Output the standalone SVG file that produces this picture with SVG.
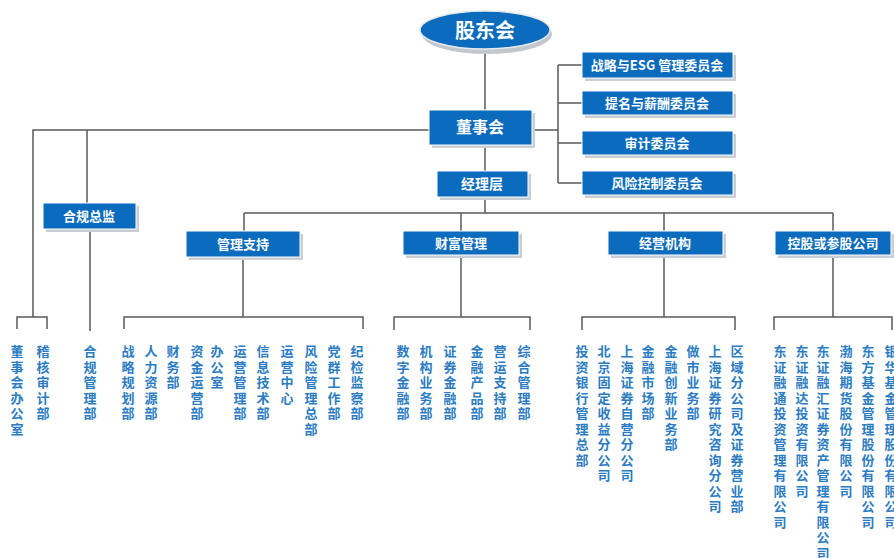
<svg xmlns="http://www.w3.org/2000/svg" width="894" height="558" viewBox="0 0 894 558">
<style>
.bg{fill:#ffffff}
.box{fill:#0b6bbd;stroke:#ffffff;stroke-width:1}
.sh{fill:#c9ced4}
.lbl{font-family:"Noto Sans CJK SC","Noto Sans",sans-serif;font-weight:bold;fill:#ffffff;text-anchor:middle}
.vt{font-family:"Noto Sans CJK SC","Noto Sans",sans-serif;font-weight:bold;font-size:13px;fill:#2b7cc2;writing-mode:vertical-rl;letter-spacing:2.5px}
.ln{fill:none;stroke:#5a5a5a;stroke-width:1.5}
</style>
<rect class="bg" x="0" y="0" width="894" height="558"/>
<g id="connectors">
<path class="ln" d="M485 50V110M485 145V171M485 197V213M244 213H833M244 213V231M461 213V231M664 213V231M833 213V231"/>
<path class="ln" d="M532 130H558M558 65V183M558 65H582M558 103H582M558 143H582M558 183H582"/>
<path class="ln" d="M429 130H33V317M87 130V203M17 329V317H47V329M90 229V331"/>
<path class="ln" d="M243 257V317M124 329V317H363V329"/>
<path class="ln" d="M461 255V317M394 330V317H530V330"/>
<path class="ln" d="M664 255V317M582 330V317H735V330"/>
<path class="ln" d="M833 255V317M774 330V317H892V330"/>
</g>
<g id="gudonghui">
<ellipse cx="487" cy="34" rx="65" ry="20" fill="#c2c7cd"/>
<ellipse cx="485" cy="30" rx="65" ry="19" fill="#0b6bbd" stroke="#e6e9ec" stroke-width="1.5"/>
<text class="lbl" x="485" y="38" font-size="20">股东会</text>
</g>
<g id="dongshihui">
<rect class="sh" x="432" y="113" width="103" height="35"/>
<rect class="box" x="429" y="110" width="103" height="35"/>
<text class="lbl" x="480" y="133" font-size="16">董事会</text>
</g>
<g id="jinglifeng">
<rect class="sh" x="440" y="174" width="91" height="26"/>
<rect class="box" x="437" y="171" width="91" height="26"/>
<text class="lbl" x="482" y="189" font-size="14">经理层</text>
</g>
<g id="c1">
<rect class="sh" x="585" y="55" width="151" height="26"/>
<rect class="box" x="582" y="52" width="151" height="26"/>
<text class="lbl" x="657" y="70" font-size="13">战略与ESG 管理委员会</text>
</g>
<g id="c2">
<rect class="sh" x="585" y="94" width="151" height="24"/>
<rect class="box" x="582" y="91" width="151" height="24"/>
<text class="lbl" x="657" y="108" font-size="13">提名与薪酬委员会</text>
</g>
<g id="c3">
<rect class="sh" x="585" y="134" width="151" height="24"/>
<rect class="box" x="582" y="131" width="151" height="24"/>
<text class="lbl" x="657" y="148" font-size="13">审计委员会</text>
</g>
<g id="c4">
<rect class="sh" x="585" y="174" width="151" height="24"/>
<rect class="box" x="582" y="171" width="151" height="24"/>
<text class="lbl" x="657" y="188" font-size="13">风险控制委员会</text>
</g>
<g id="hegui">
<rect class="sh" x="46" y="206" width="93" height="26"/>
<rect class="box" x="43" y="203" width="93" height="26"/>
<text class="lbl" x="89" y="221" font-size="13">合规总监</text>
</g>
<g id="guanli">
<rect class="sh" x="189" y="234" width="114" height="26"/>
<rect class="box" x="186" y="231" width="114" height="26"/>
<text class="lbl" x="243" y="249" font-size="13">管理支持</text>
</g>
<g id="caifu">
<rect class="sh" x="406" y="234" width="116" height="24"/>
<rect class="box" x="403" y="231" width="116" height="24"/>
<text class="lbl" x="461" y="248" font-size="13">财富管理</text>
</g>
<g id="jingying">
<rect class="sh" x="611" y="234" width="115" height="24"/>
<rect class="box" x="608" y="231" width="115" height="24"/>
<text class="lbl" x="665" y="248" font-size="13">经营机构</text>
</g>
<g id="konggu">
<rect class="sh" x="778" y="234" width="116" height="24"/>
<rect class="box" x="775" y="231" width="116" height="24"/>
<text class="lbl" x="833" y="248" font-size="13">控股或参股公司</text>
</g>
<g id="depts">
<text class="vt" x="17" y="345">董事会办公室</text>
<text class="vt" x="43" y="345">稽核审计部</text>
<text class="vt" x="90" y="345">合规管理部</text>
<text class="vt" x="128" y="345">战略规划部</text>
<text class="vt" x="151" y="345">人力资源部</text>
<text class="vt" x="173" y="345">财务部</text>
<text class="vt" x="197" y="345">资金运营部</text>
<text class="vt" x="217" y="345">办公室</text>
<text class="vt" x="240" y="345">运营管理部</text>
<text class="vt" x="263" y="345">信息技术部</text>
<text class="vt" x="287" y="345">运营中心</text>
<text class="vt" x="311" y="345">风险管理总部</text>
<text class="vt" x="334" y="345">党群工作部</text>
<text class="vt" x="357" y="345">纪检监察部</text>
<text class="vt" x="403" y="345">数字金融部</text>
<text class="vt" x="426" y="345">机构业务部</text>
<text class="vt" x="450" y="345">证券金融部</text>
<text class="vt" x="477" y="345">金融产品部</text>
<text class="vt" x="500" y="345">营运支持部</text>
<text class="vt" x="524" y="345">综合管理部</text>
<text class="vt" x="582" y="345">投资银行管理总部</text>
<text class="vt" x="604" y="345">北京固定收益分公司</text>
<text class="vt" x="627" y="345">上海证券自营分公司</text>
<text class="vt" x="648" y="345">金融市场部</text>
<text class="vt" x="671" y="345">金融创新业务部</text>
<text class="vt" x="693" y="345">做市业务部</text>
<text class="vt" x="715" y="345">上海证券研究咨询分公司</text>
<text class="vt" x="737" y="345">区域分公司及证券营业部</text>
<text class="vt" x="780" y="345">东证融通投资管理有限公司</text>
<text class="vt" x="802" y="345">东证融达投资有限公司</text>
<text class="vt" x="823" y="345">东证融汇证券资产管理有限公司</text>
<text class="vt" x="846" y="345">渤海期货股份有限公司</text>
<text class="vt" x="868" y="345">东方基金管理股份有限公司</text>
<text class="vt" x="891" y="345">银华基金管理股份有限公司</text>
</g>
</svg>
